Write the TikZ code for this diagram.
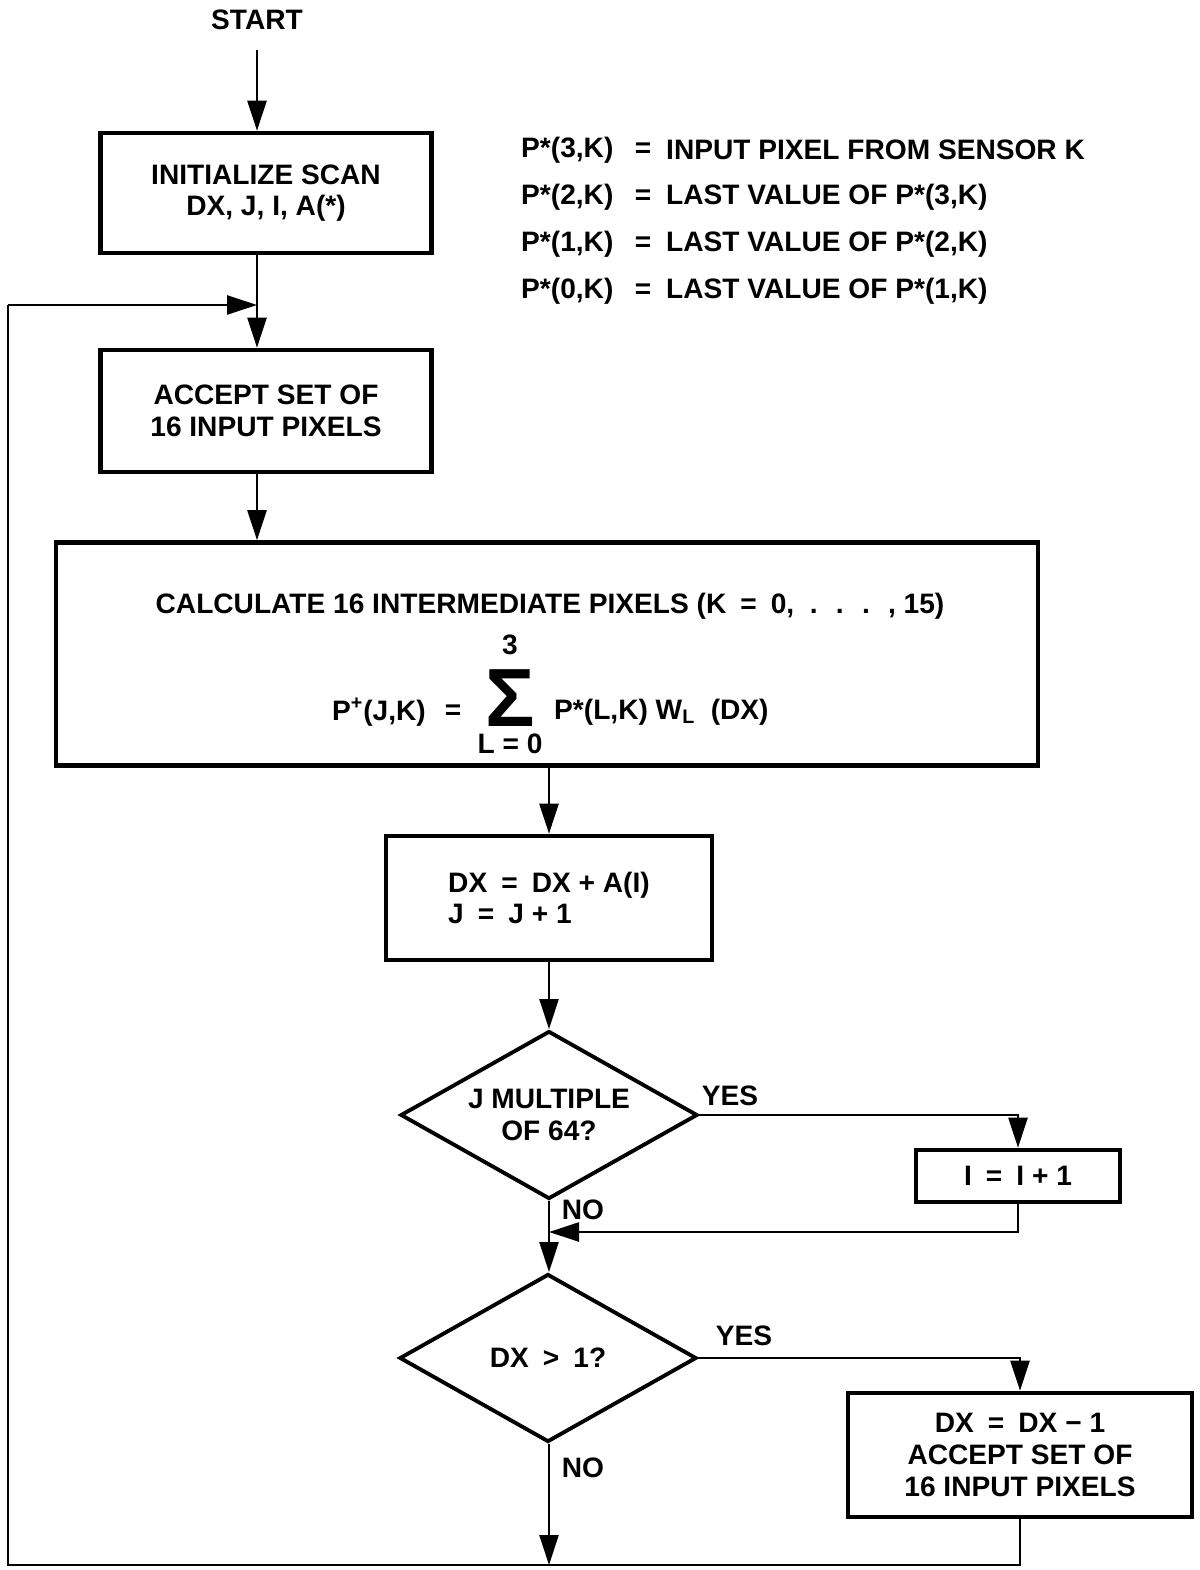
\documentclass[tikz,border=0pt]{standalone}
\usepackage{fontspec}
\setmainfont{Liberation Sans}
\usetikzlibrary{arrows.meta,shapes.geometric}

\tikzset{
  box/.style={draw,line width=2.6pt,align=center,inner sep=0pt},
  decision/.style={draw,diamond,line width=2.2pt,align=center,inner sep=0pt,
    aspect=1.78,minimum width=59.4mm,minimum height=33.6mm},
  flow/.style={line width=1.4pt}
}

\begin{document}
\begin{tikzpicture}[x=0.2mm,y=-0.2mm,>={Triangle[length=6mm,width=3.8mm]},
  font=\bfseries\fontsize{16}{18}\selectfont]
  \useasboundingbox (0,0) rectangle (1200,1570);

  % boxes
  \node (start) at (257,20) {START};
  \node[box,minimum width=66.2mm,minimum height=24mm] (init) at (266,193)
    {INITIALIZE SCAN\\DX, J, I, A(*)};
  \node[box,minimum width=66.2mm,minimum height=24.4mm] (accept) at (266,411)
    {ACCEPT SET OF\\16 INPUT PIXELS};
  \node[box,minimum width=196.4mm,minimum height=44.6mm] (calc) at (547,654) {};
  \node[box,minimum width=65.2mm,minimum height=24.8mm,align=left] (update) at (549,898)
    {DX\enspace=\enspace DX + A(I)\\J\enspace=\enspace J + 1};
  \node[decision] (q1) at (549,1115) {J MULTIPLE\\OF 64?};
  \node[box,minimum width=40.8mm,minimum height=10.4mm] (incr) at (1018,1176)
    {I\enspace=\enspace I + 1};
  \node[decision] (q2) at (548,1358) {DX\enspace\textgreater\enspace 1?};
  \node[box,minimum width=68.8mm,minimum height=24.8mm] (dec) at (1020,1455)
    {DX\enspace=\enspace DX \textminus\ 1\\ACCEPT SET OF\\16 INPUT PIXELS};

  % formula inside calc
  \node (calctitle) at (550,606) {CALCULATE 16 INTERMEDIATE PIXELS (K\enspace=\enspace 0, \ . \ . \ . \ , 15)};
  \node[inner sep=0pt,text height=33pt,text depth=0pt] (sum) at (510,697)
    {\fontsize{47}{47}\selectfont Σ};
  \node[inner sep=1pt] (sumtop) at (510,645) {3};
  \node[inner sep=1pt] (sumbot) at (510,744) {L = 0};
  \node (eq) at (453,712) {=};
  \node[anchor=east] (plhs) at (432,712) {P\textsuperscript{+}(J,K)};
  \node[anchor=west] (prhs) at (548,712) {P*(L,K) W\textsubscript{L}\ \ (DX)};

  % definitions
  \foreach \y/\lhs/\rhs [count=\i] in {150/{P*(3,K)}/{INPUT PIXEL FROM SENSOR K},
      197/{P*(2,K)}/{LAST VALUE OF P*(3,K)},
      244/{P*(1,K)}/{LAST VALUE OF P*(2,K)},
      291/{P*(0,K)}/{LAST VALUE OF P*(1,K)}}
  {
    \node[anchor=west] (lhs\i) at (515,\y) {\lhs};
    \node (eq\i) at (643,\y) {=};
    \node[anchor=west] (rhs\i) at (660,\y) {\rhs};
  }

  % connectors
  \coordinate (join) at (257,305);
  \coordinate (merge) at (549,1232);
  \coordinate (bot) at (549,1565);
  \coordinate (lb) at (8,1565);
  \coordinate (lt) at (8,305);
  \draw[flow,->,shorten <=8pt] (start) -- (start |- init.north);
  \draw[flow,->] (init.south -| start) -- (accept.north -| start);
  \draw[flow,->] (lt) -- (join);
  \draw[flow,->] (accept.south -| start) -- (calc.north -| start);
  \draw[flow,->] (calc.south -| update) -- (update.north);
  \draw[flow,->] (update.south) -- (q1.north);
  \draw[flow,->] (q1.east) -- (q1.east -| incr) -- (incr.north);
  \draw[flow,->] (incr.south) -- (incr.south |- merge) -- (merge);
  \draw[flow,->] (q1.south) -- (q1.south |- q2.north);
  \draw[flow,->] (q2.east) -- (q2.east -| dec) -- (dec.north);
  \draw[flow,->] (q2.south -| bot) -- (bot);
  \draw[flow] (dec.south) -- (dec.south |- lb) -- (lb) -- (lt);

  % labels
  \node (yes1) at (730,1096) {YES};
  \node (no1) at (583,1210) {NO};
  \node (yes2) at (744,1336) {YES};
  \node (no2) at (583,1468) {NO};
\end{tikzpicture}
\end{document}
